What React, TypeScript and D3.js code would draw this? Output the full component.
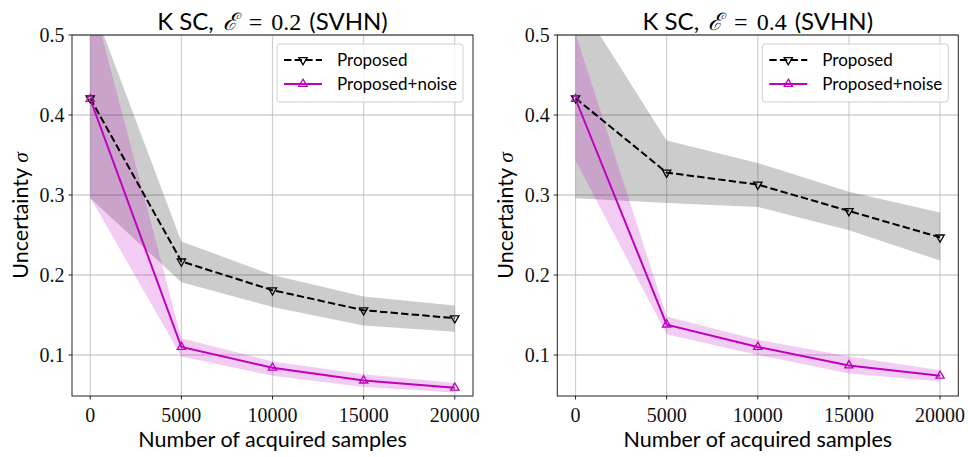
import React, { useRef, useEffect } from "react";
import * as d3 from "d3";

const samples = [0, 5000, 10000, 15000, 20000];
const xTicks = [0, 5000, 10000, 15000, 20000];
const yTicks = [0.1, 0.2, 0.3, 0.4, 0.5];

// E = 0.2
const propMeanA = [0.421, 0.217, 0.181, 0.156, 0.146];
const propLoA = [0.296, 0.191, 0.160, 0.137, 0.129];
const propHiA = [0.545, 0.242, 0.200, 0.173, 0.162];
const noiseMeanA = [0.420, 0.110, 0.084, 0.068, 0.059];
const noiseLoA = [0.297, 0.098, 0.074, 0.060, 0.053];
const noiseHiA = [0.554, 0.121, 0.092, 0.076, 0.065];

// E = 0.4
const propMeanB = [0.421, 0.328, 0.313, 0.280, 0.247];
const propLoB = [0.296, 0.290, 0.285, 0.256, 0.218];
const propHiB = [0.548, 0.368, 0.340, 0.304, 0.278];
const noiseMeanB = [0.420, 0.138, 0.110, 0.087, 0.074];
const noiseLoB = [0.343, 0.126, 0.100, 0.077, 0.067];
const noiseHiB = [0.502, 0.148, 0.119, 0.098, 0.081];

const seriesNames = ["Proposed", "Proposed+noise"];

const SANS = "Lato, 'DejaVu Sans', sans-serif";
const SERIF = "'Liberation Serif', 'DejaVu Serif', serif";
const MAGENTA = "#bf00bf";

interface Panel {
    eps: string;
    left: number;
    propMean: number[];
    propLo: number[];
    propHi: number[];
    noiseMean: number[];
    noiseLo: number[];
    noiseHi: number[];
}

const panels: Panel[] = [
    { eps: "0.2", left: 72, propMean: propMeanA, propLo: propLoA, propHi: propHiA, noiseMean: noiseMeanA, noiseLo: noiseLoA, noiseHi: noiseHiA },
    { eps: "0.4", left: 557.3, propMean: propMeanB, propLo: propLoB, propHi: propHiB, noiseMean: noiseMeanB, noiseLo: noiseLoB, noiseHi: noiseHiB },
];

export default function App() {
    const svgRef = useRef<SVGSVGElement>(null);

    useEffect(() => {
        if (!svgRef.current) return;
        const svg = d3.select(svgRef.current);
        svg.selectAll("*").remove();

        const top = 35;
        const bottom = 396;
        const width = 401;

        panels.forEach((p, pi) => {
            const x = d3.scaleLinear().domain([-1000, 21000]).range([p.left, p.left + width]);
            const y = d3.scaleLinear().domain([0.04875, 0.5]).range([bottom, top]);

            const clipId = `clip-${pi}`;
            svg.append("clipPath").attr("id", clipId)
                .append("rect")
                .attr("x", p.left).attr("y", top)
                .attr("width", width).attr("height", bottom - top);

            // grid
            const grid = svg.append("g");
            xTicks.forEach(t => {
                grid.append("line")
                    .attr("x1", x(t)).attr("x2", x(t))
                    .attr("y1", top).attr("y2", bottom)
                    .attr("stroke", "#b0b0b0").attr("stroke-opacity", 0.6).attr("stroke-width", 1.2);
            });
            yTicks.forEach(t => {
                grid.append("line")
                    .attr("x1", p.left).attr("x2", p.left + width)
                    .attr("y1", y(t)).attr("y2", y(t))
                    .attr("stroke", "#b0b0b0").attr("stroke-opacity", 0.9).attr("stroke-width", 1.2);
            });

            const plot = svg.append("g").attr("clip-path", `url(#${clipId})`);

            const band = (lo: number[], hi: number[]) =>
                d3.area<number>()
                    .x((_, i) => x(samples[i]))
                    .y0((_, i) => y(lo[i]))
                    .y1((_, i) => y(hi[i]))(samples.map((_, i) => i));

            plot.append("path").attr("d", band(p.propLo, p.propHi))
                .attr("fill", "#000").attr("fill-opacity", 0.2);
            plot.append("path").attr("d", band(p.noiseLo, p.noiseHi))
                .attr("fill", MAGENTA).attr("fill-opacity", 0.2);

            const line = (vals: number[]) =>
                d3.line<number>()
                    .x((_, i) => x(samples[i]))
                    .y(d => y(d))(vals);

            plot.append("path").attr("d", line(p.propMean))
                .attr("fill", "none").attr("stroke", "#000")
                .attr("stroke-width", 2).attr("stroke-dasharray", "7.4,3.2");
            plot.append("path").attr("d", line(p.noiseMean))
                .attr("fill", "none").attr("stroke", MAGENTA).attr("stroke-width", 2);

            const tri = d3.symbol().type(d3.symbolTriangle).size(30)();
            p.propMean.forEach((v, i) => {
                plot.append("path").attr("d", tri)
                    .attr("transform", `translate(${x(samples[i])},${y(v)}) rotate(180)`)
                    .attr("fill", "none").attr("stroke", "#000").attr("stroke-width", 1.3);
            });
            p.noiseMean.forEach((v, i) => {
                plot.append("path").attr("d", tri)
                    .attr("transform", `translate(${x(samples[i])},${y(v)})`)
                    .attr("fill", "none").attr("stroke", MAGENTA).attr("stroke-width", 1.3);
            });

            // frame
            svg.append("rect")
                .attr("x", p.left).attr("y", top)
                .attr("width", width).attr("height", bottom - top)
                .attr("fill", "none").attr("stroke", "#222").attr("stroke-width", 1);

            // ticks
            xTicks.forEach(t => {
                svg.append("line")
                    .attr("x1", x(t)).attr("x2", x(t))
                    .attr("y1", bottom).attr("y2", bottom + 3.5)
                    .attr("stroke", "#222");
                svg.append("text")
                    .attr("x", x(t)).attr("y", 421.5)
                    .attr("text-anchor", "middle")
                    .attr("font-family", SERIF).attr("font-size", 20)
                    .attr("fill", "#111")
                    .text(String(t));
            });
            yTicks.forEach(t => {
                svg.append("line")
                    .attr("x1", p.left - 3.5).attr("x2", p.left)
                    .attr("y1", y(t)).attr("y2", y(t))
                    .attr("stroke", "#222");
                svg.append("text")
                    .attr("x", p.left - 7.5).attr("y", y(t))
                    .attr("dy", "0.33em")
                    .attr("text-anchor", "end")
                    .attr("font-family", SERIF).attr("font-size", 20)
                    .attr("fill", "#111")
                    .text(t.toFixed(1));
            });

            const cx = p.left + width / 2;

            // x label
            svg.append("text")
                .attr("x", cx).attr("y", 447)
                .attr("text-anchor", "middle")
                .attr("font-family", SANS).attr("font-size", 21.5)
                .attr("fill", "#000")
                .text("Number of acquired samples");

            // y label
            const yl = svg.append("text")
                .attr("transform", `translate(${p.left - 44.5},${(top + bottom) / 2}) rotate(-90)`)
                .attr("text-anchor", "middle")
                .attr("font-family", SANS).attr("font-size", 21.5)
                .attr("fill", "#000");
            yl.append("tspan").text("Uncertainty ");
            yl.append("tspan").attr("font-family", SERIF).attr("font-style", "italic").text("σ");

            // title
            const title = svg.append("text")
                .attr("x", cx).attr("y", 29.5)
                .attr("text-anchor", "middle")
                .attr("font-size", 24)
                .attr("fill", "#000");
            title.append("tspan").attr("font-family", SANS).text("K SC,");
            title.append("tspan").attr("dx", 9).attr("font-family", SERIF).attr("font-style", "italic").text("ℰ");
            title.append("tspan").attr("dx", 12).attr("font-family", SERIF).text("=");
            title.append("tspan").attr("dx", 9).attr("font-family", SERIF).text(p.eps);
            title.append("tspan").attr("dx", 8).attr("font-family", SANS).text("(SVHN)");

            // legend
            const lx = p.left + width - 196;
            const ly = 44;
            svg.append("rect")
                .attr("x", lx).attr("y", ly)
                .attr("width", 186).attr("height", 58)
                .attr("rx", 3)
                .attr("fill", "#fff").attr("fill-opacity", 0.8)
                .attr("stroke", "#d0d0d0").attr("stroke-width", 1);
            seriesNames.forEach((name, i) => {
                const ry = ly + 16 + i * 24;
                const isProp = i === 0;
                const color = isProp ? "#000" : MAGENTA;
                svg.append("line")
                    .attr("x1", lx + 7).attr("x2", lx + 45)
                    .attr("y1", ry).attr("y2", ry)
                    .attr("stroke", color).attr("stroke-width", 2)
                    .attr("stroke-dasharray", isProp ? "7.4,3.2" : null);
                svg.append("path").attr("d", tri)
                    .attr("transform", `translate(${lx + 26},${ry}) ${isProp ? "rotate(180)" : ""}`)
                    .attr("fill", "none").attr("stroke", color).attr("stroke-width", 1.3);
                svg.append("text")
                    .attr("x", lx + 60).attr("y", ry)
                    .attr("dy", "0.36em")
                    .attr("font-family", SANS).attr("font-size", 17)
                    .attr("fill", "#000")
                    .text(name);
            });
        });
    }, []);

    return (
        <svg
            ref={svgRef}
            width={968}
            height={457}
            style={{ position: "absolute", left: 0, top: 0, background: "#fff" }}
        />
    );
}
